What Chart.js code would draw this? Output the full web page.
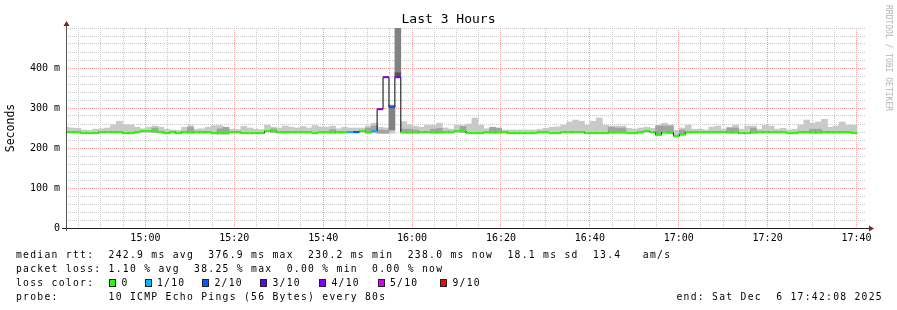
<!DOCTYPE html>
<html>
<head>
<meta charset="utf-8">
<title>Last 3 Hours</title>
<script src="https://cdn.jsdelivr.net/npm/chart.js@4.4.1/dist/chart.umd.min.js"></script>
<style>
  html, body { margin: 0; padding: 0; background: #fff; }
  #wrap   { position: relative; width: 897px; height: 310px; overflow: hidden; }
  canvas  { position: absolute; left: 0; top: 0; }
  .t      { position: absolute; font-family: 'DejaVu Sans Mono', monospace; font-size: 9.7px;
            letter-spacing: 1.29px; line-height: 14px; white-space: pre; color: #000; }
  .box    { position: absolute; width: 7px; height: 8px; box-sizing: border-box; border: 1px solid #222; }
  #wm     { position: absolute; left: 884px; top: 5px; font-family: 'DejaVu Sans Mono', monospace;
            font-size: 8px; line-height: 8px; color: #b4b4b4; writing-mode: vertical-rl; white-space: pre; }
</style>
</head>
<body>
<div id="wrap">
  <canvas id="c" width="897" height="310"></canvas>
  <div id="wm">RRDTOOL / TOBI OETIKER</div>
</div>
<script>
/* ==========================================================
   SmokePing style "Last 3 Hours" graph – median rtt + smoke
========================================================== */

/* ---------- time frame ---------- */
const START    = '14:42:08';      // left edge of the plot
const SPAN_MIN = 180;             // 3 hours shown
const STEP_SEC = 80;              // one sample every 80 s

/* ---------- series, one value per step (ms) ---------- */
const MEDIAN = [
  240,240,240,237.5,237.5,237.5,240,240,240,240,
  237.5,237.5,240,242.5,242.5,242.5,240,237.5,240,237.5,
  240,240,240,240,240,237.5,237.5,237.5,240,240,
  237.5,237.5,237.5,237.5,242.5,242.5,240,240,240,240,
  240,240,237.5,240,240,240,240,240,240,240,
  242.5,240,242,297,377,302,377,240,240,240,
  240,240,240,240,240,240,242.5,242.5,237.5,237.5,
  237.5,240,240,240,240,237.5,237.5,237.5,237.5,237.5,
  240,240,237.5,237.5,240,240,240,240,237.5,237.5,
  237.5,237.5,240,240,240,237.5,237.5,240,242.5,240,
  234,240,239,230,235,240,240,240,240,240,
  240,240,240,240,237.5,237.5,240,240,240,240,
  240,240,237.5,237.5,240,240,240,240,240,240,
  240,240,240,238
];
const SMOKE_LO = [
  237,237,237,235,235,235,237,237,237,237,
  235,235,237,239,239,239,237,235,237,235,
  237,237,237,237,237,235,235,235,237,237,
  235,235,235,235,239,239,237,237,237,237,
  237,237,235,237,237,237,237,237,237,237,
  239,237,239,237,237,237,null,237,237,237,
  237,237,237,237,237,237,239,239,235,235,
  235,237,237,237,237,235,235,235,235,235,
  237,237,235,235,237,237,237,237,235,235,
  235,235,237,237,237,235,235,237,239,237,
  231,237,236,228,232,237,237,237,237,237,
  237,237,237,237,235,235,237,237,237,237,
  237,237,235,235,237,237,237,237,237,237,
  237,237,237,235
];
const SMOKE_HI = [
  252,250,249,245,244,247,248,250,258,267,
  258,258,252,248,252,255,252,247,245,244,
  252,256,247,248,252,256,256,248,247,246,
  254,250,247,246,257,252,250,255,252,250,
  254,250,256,253,252,255,248,252,250,250,
  250,255,262,252,250,307,null,266,258,254,
  252,257,257,262,250,247,257,255,260,275,
  257,248,248,248,245,245,245,245,245,245,
  247,249,252,253,257,265,270,267,257,267,
  275,257,255,255,255,249,247,250,252,249,
  257,262,257,244,250,257,247,247,245,252,
  255,247,252,257,247,255,255,247,257,255,
  247,249,245,247,257,270,262,265,272,252,
  255,265,257,257
];
const SMOKE_MID = [
  null,null,null,null,null,null,null,null,null,null,
  null,null,null,null,null,250,null,null,null,null,
  null,252,null,null,null,null,248,252,null,null,
  null,null,null,null,null,248,null,null,null,null,
  null,null,null,null,null,246,null,null,null,null,
  null,250,255,245,244,null,null,247,247,245,
  null,null,247,249,null,null,null,255,null,null,
  null,null,252,250,null,null,null,null,null,null,
  null,null,null,null,null,null,null,null,null,null,
  null,null,252,250,250,null,null,null,null,null,
  255,255,255,null,245,null,null,null,null,null,
  null,null,250,250,null,null,250,null,null,null,
  null,null,null,null,null,null,247,247,null,null,
  null,null,null,null
];
/* lost pings (of 10) per step */
const LOSS = [
  0,0,0,0,0,0,0,0,0,0, 0,0,0,0,0,0,0,0,0,0,
  0,0,0,0,0,0,0,0,0,0, 0,0,0,0,0,0,0,0,0,0,
  0,0,0,0,0,0,0,0,1,2, 0,0,1,4,4,2,4,0,0,0,
  0,0,0,0,0,0,0,0,0,0, 0,0,0,0,0,0,0,0,0,0,
  0,0,0,0,0,0,0,0,0,0, 0,0,0,0,0,0,0,0,0,0,
  0,0,0,0,0,0,0,0,0,0, 0,0,0,0,0,0,0,0,0,0,
  0,0,0,0,0,0,0,0,0,0, 0,0,0,0
];
/* darker smoke only around the spike */
const DEEP_STEP = [55, 56];
const DEEP_LO   = [245, 385];
const DEEP_HI   = [307, 500];
const CORE_STEP = [56];
const CORE_LO   = [377];
const CORE_HI   = [388];

/* ---------- axes & legend texts ---------- */
const X_LABELS    = ['15:00','15:20','15:40','16:00','16:20','16:40','17:00','17:20','17:40'];
const Y_LABELS    = ['0','100 m','200 m','300 m','400 m'];
const Y_MAX       = 500;
const LOSS_LABELS = ['0','1/10','2/10','3/10','4/10','5/10','9/10'];
const LOSS_COLORS = ['#26ff00','#00b8ff','#0059ff','#5e00ff','#7e00ff','#dd00ff','#ff0000'];
const FOOTER = [
  'median rtt:  242.9 ms avg  376.9 ms max  230.2 ms min  238.0 ms now  18.1 ms sd  13.4   am/s',
  'packet loss: 1.10 % avg  38.25 % max  0.00 % min  0.00 % now',
  'probe:       10 ICMP Echo Pings (56 Bytes) every 80s'
];
const END_TEXT = 'end: Sat Dec  6 17:42:08 2025';

/* ---------- colours ---------- */
const COL = {
  light : '#c9c9c9',
  mid   : '#a3a3a3',
  deep  : '#828282',
  core  : '#555555',
  grid  : '#c8c8c8',
  mgrid : '#f29c9c',
  axis  : '#212121',
  arrow : '#802020'
};

/* ---------- tiny utils ---------- */
const toMin  = s => { const [h, m, sec = 0] = s.split(':').map(Number); return h * 60 + m + sec / 60; };
const t0     = toMin(START);
const stepM  = STEP_SEC / 60;
const lossIx = n => (n <= 5 ? n : 6);
const xs     = MEDIAN.map((_, i) => i * stepM);

const band   = (lo, hi) => xs.map((x, i) =>
  ({ x, y: (lo[i] == null || hi[i] == null) ? null : [lo[i], hi[i]] }));
const sparse = (steps, lo, hi) => steps.map((i, k) => ({ x: xs[i], y: [lo[k], hi[k]] }));

/* median: black stepped line + per-step coloured strokes */
const medBlack = MEDIAN.map((v, i) => ({ x: (i - 0.5) * stepM, y: v }))
  .concat([{ x: (MEDIAN.length - 0.5) * stepM, y: MEDIAN[MEDIAN.length - 1] }]);
const medColour = [];
MEDIAN.forEach((v, i) => {
  medColour.push({ x: (i - 0.5) * stepM, y: v }, { x: (i + 0.5) * stepM, y: v }, { x: (i + 0.5) * stepM, y: null });
});

const barSet = (data, color, order) => ({
  type: 'bar', data, backgroundColor: color, borderWidth: 0, grouped: false,
  barPercentage: 1, categoryPercentage: 1, order, yAxisID: 'y'
});

/* ---------- axes + arrows (rrdtool look) ---------- */
const rrdAxes = {
  id: 'rrdAxes',
  afterDatasetsDraw (chart) {
    const { ctx, chartArea: a } = chart;
    ctx.save();
    ctx.fillStyle = COL.axis;
    ctx.fillRect(a.left - 4, a.bottom, a.right - a.left + 7, 1);
    ctx.fillStyle = '#555';
    ctx.fillRect(a.left, a.top - 3, 1, a.bottom - a.top + 6);
    ctx.fillStyle = COL.arrow;
    ctx.beginPath();
    ctx.moveTo(a.left + 0.5, a.top - 7);
    ctx.lineTo(a.left - 2.5, a.top - 2);
    ctx.lineTo(a.left + 3.5, a.top - 2);
    ctx.closePath(); ctx.fill();
    ctx.beginPath();
    ctx.moveTo(a.right + 8, a.bottom + 0.5);
    ctx.lineTo(a.right + 3, a.bottom - 2.5);
    ctx.lineTo(a.right + 3, a.bottom + 3.5);
    ctx.closePath(); ctx.fill();
    ctx.restore();
  }
};

Chart.defaults.font.family = "'DejaVu Sans Mono', monospace";
Chart.defaults.color = '#000';

new Chart(document.getElementById('c'), {
  type: 'bar',
  data: {
    datasets: [
      barSet(band(SMOKE_LO, SMOKE_HI), COL.light, 6),
      barSet(band(SMOKE_LO, SMOKE_MID), COL.mid, 5),
      barSet(sparse(DEEP_STEP, DEEP_LO, DEEP_HI), COL.deep, 4),
      barSet(sparse(CORE_STEP, CORE_LO, CORE_HI), COL.core, 3),
      { type: 'line', data: medBlack, borderColor: '#000', borderWidth: 1, stepped: true,
        pointRadius: 0, order: 2, yAxisID: 'y' },
      { type: 'line', data: medColour, borderColor: LOSS_COLORS[0], borderWidth: 2,
        borderCapStyle: 'butt', pointRadius: 0, spanGaps: false, order: 1, yAxisID: 'y',
        segment: { borderColor: c => LOSS_COLORS[lossIx(LOSS[Math.floor(c.p0DataIndex / 3)])] } }
    ]
  },
  options: {
    responsive: false,
    devicePixelRatio: 1,
    animation: false,
    events: [],
    layout: { padding: { left: 0, right: 0, top: 0, bottom: 62 } },
    plugins: {
      legend: { display: false },
      tooltip: { enabled: false },
      title: { display: true, text: 'Last 3 Hours', color: '#000',
               font: { size: 13, weight: 'normal' }, padding: { top: 12, bottom: 0.4 } }
    },
    scales: {
      x: {
        type: 'linear', min: 0, max: SPAN_MIN, offset: false,
        grid: { offset: false, drawTicks: false,
                color: c => (c.tick && c.tick.lbl ? COL.mgrid : COL.grid) },
        border: { display: false, dash: [1, 1] },
        ticks: { autoSkip: false, maxRotation: 0, padding: 4, font: { size: 10 },
                 callback: (v, i, t) => t[i].lbl || '' },
        afterBuildTicks: s => {
          const ticks = [];
          for (let m = Math.ceil(t0 / 5) * 5; m - t0 <= SPAN_MIN; m += 5) {
            const lbl = String(Math.floor(m / 60)).padStart(2, '0') + ':' + String(m % 60).padStart(2, '0');
            ticks.push({ value: m - t0, lbl: X_LABELS.includes(lbl) ? lbl : '' });
          }
          s.ticks = ticks;
        },
        afterFit: s => { s.height = 20; }
      },
      y: {
        type: 'linear', position: 'left', min: 0, max: Y_MAX,
        grid: { drawTicks: false,
                color: c => (c.tick && c.tick.value % 100 === 0 && c.tick.value < Y_MAX ? COL.mgrid : COL.grid) },
        border: { display: false, dash: [1, 1] },
        ticks: { autoSkip: false, padding: 6, font: { size: 10 },
                 callback: v => (v % 100 === 0 && Y_LABELS[v / 100]) || '' },
        afterBuildTicks: s => {
          const ticks = [];
          for (let v = 0; v <= Y_MAX; v += 20) ticks.push({ value: v });
          s.ticks = ticks;
        },
        title: { display: true, text: 'Seconds', color: '#000',
                 font: { size: 11.5 }, padding: { top: 4.1, bottom: 0 } },
        afterFit: s => { s.width = 66; }
      },
      y2: {
        type: 'linear', position: 'right', display: true,
        grid: { display: false }, border: { display: false }, ticks: { display: false },
        afterFit: s => { s.width = 31; }
      }
    }
  },
  plugins: [rrdAxes]
});

/* ---------- footer legend (real text) ---------- */
const wrap     = document.getElementById('wrap');
const LINE_TOP = [248, 261.9, 275.8, 289.7];
const LEGEND_X = [109, 144.5, 202, 260, 319, 377.5, 440];

const addText = (txt, left, top) => {
  const d = document.createElement('div');
  d.className = 't';
  d.textContent = txt;
  d.style.top = top + 'px';
  if (left != null) d.style.left = left + 'px';
  wrap.appendChild(d);
  return d;
};

addText(FOOTER[0], 16, LINE_TOP[0]);
addText(FOOTER[1], 16, LINE_TOP[1]);
addText('loss color:', 16, LINE_TOP[2]);
LOSS_LABELS.forEach((lbl, k) => {
  const b = document.createElement('div');
  b.className = 'box';
  b.style.left = LEGEND_X[k] + 'px';
  b.style.top = '278.5px';
  b.style.background = LOSS_COLORS[k];
  wrap.appendChild(b);
  addText(lbl, LEGEND_X[k] + 12.5, LINE_TOP[2]);
});
addText(FOOTER[2], 16, LINE_TOP[3]);
addText(END_TEXT, null, LINE_TOP[3]).style.right = '14px';
</script>
</body>
</html>
